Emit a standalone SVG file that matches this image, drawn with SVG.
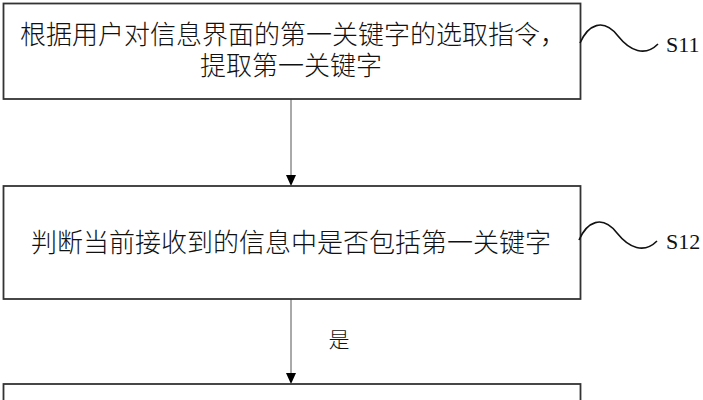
<svg xmlns="http://www.w3.org/2000/svg" width="703" height="400" viewBox="0 0 703 400">
<style>
.box{fill:#fff;stroke:#333;stroke-width:1.8}
.cjk{font-family:"Noto Sans CJK SC","Noto Sans",sans-serif;font-weight:300;fill:#111;text-anchor:middle}
.t{font-size:26px}
.lab{font-family:"Liberation Serif",serif;font-size:22px;fill:#111}
.wave{fill:none;stroke:#111;stroke-width:1.6}
.conn{stroke:#555;stroke-width:1;fill:none}
.head{fill:#000}
</style>
<rect width="703" height="400" fill="#fff"/>
<g id="connectors">
<line class="conn" x1="291" y1="99" x2="291" y2="176"/>
<path class="head" d="M286,175 L296,175 L291,186 Z"/>
<line class="conn" x1="291" y1="299" x2="291" y2="374"/>
<path class="head" d="M286,373 L296,373 L291,384 Z"/>
<text class="cjk" x="339" y="347" style="font-size:21px">是</text>
</g>
<g id="s11">
<rect class="box" x="3.5" y="3.5" width="577" height="95.5"/>
<text class="cjk t"><tspan x="293" y="44">根据用户对信息界面的第一关键字的选取指令，</tspan><tspan x="291" y="75">提取第一关键字</tspan></text>
<path class="wave" d="M580,43 C588,25 603,17 618,36 C630,51 645,57 658,44"/>
<text class="lab" x="666" y="52">S11</text>
</g>
<g id="s12">
<rect class="box" x="3.5" y="186" width="577" height="113"/>
<text class="cjk t" x="291" y="252">判断当前接收到的信息中是否包括第一关键字</text>
<path class="wave" d="M579,240 C587,222 602,214 617,233 C629,248 644,254 657,241"/>
<text class="lab" x="666" y="249">S12</text>
</g>
<g id="s13">
<rect class="box" x="3.5" y="384" width="577" height="40"/>
</g>
</svg>
